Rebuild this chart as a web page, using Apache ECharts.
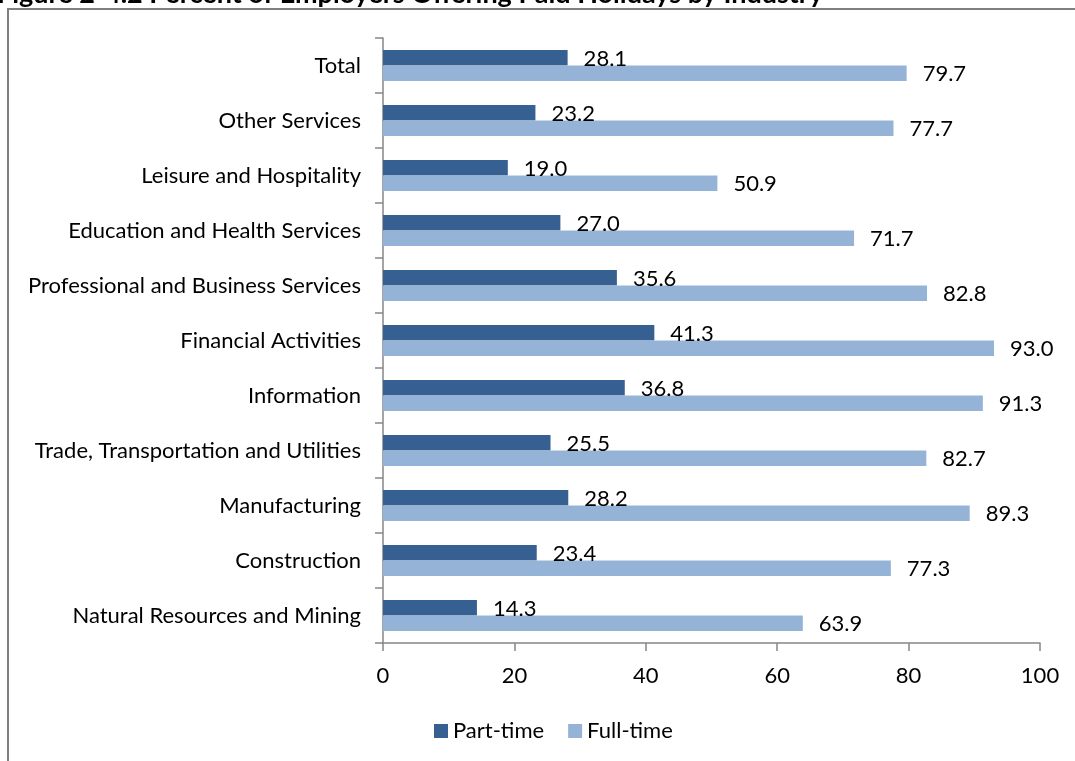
<!DOCTYPE html>
<html>
<head>
<meta charset="utf-8">
<style>
  html, body { margin: 0; padding: 0; background: #fff; }
  #main { width: 1075px; height: 761px; }
</style>
<script src="https://cdn.jsdelivr.net/npm/echarts@6/dist/echarts.min.js"></script>
</head>
<body>
<div id="main"></div>
<script>
var industries = [
  "Total",
  "Other Services",
  "Leisure and Hospitality",
  "Education and Health Services",
  "Professional and Business Services",
  "Financial Activities",
  "Information",
  "Trade, Transportation and Utilities",
  "Manufacturing",
  "Construction",
  "Natural Resources and Mining"
];
var partTime = [28.1, 23.2, 19.0, 27.0, 35.6, 41.3, 36.8, 25.5, 28.2, 23.4, 14.3];
var fullTime = [79.7, 77.7, 50.9, 71.7, 82.8, 93.0, 91.3, 82.7, 89.3, 77.3, 63.9];
var xTicks = [0, 20, 40, 60, 80, 100];

var chart = echarts.init(document.getElementById("main"));
var font = "Lato, 'Open Sans', sans-serif";
var axisGray = "#868686";
var fs = 22;

function barLabel() {
  return {
    show: true,
    position: "right",
    distance: 16,
    offset: [0, 1],
    color: "#000",
    fontFamily: font,
    fontSize: fs,
    formatter: function (p) { return p.value.toFixed(1); }
  };
}

var option = {
  animation: false,
  textStyle: { fontFamily: font },
  graphic: [
    {
      type: "rect",
      shape: { x: 8, y: 9, width: 1200, height: 900 },
      style: { fill: null, stroke: "#7f7f7f", lineWidth: 2 },
      silent: true
    },
    {
      type: "text",
      silent: true,
      style: {
        x: -3,
        y: 8,
        verticalAlign: "bottom",
        text: "Figure 2-4.2 Percent of Employers Offering Paid Holidays by Industry",
        font: "bold 27px Lato, sans-serif",
        fill: "#000"
      }
    }
  ],
  legend: {
    left: 429,
    top: 715,
    itemWidth: 14,
    itemHeight: 14,
    itemGap: 24,
    icon: "rect",
    textStyle: { fontSize: fs, color: "#000", fontFamily: font },
    data: ["Part-time", "Full-time"]
  },
  grid: { left: 383, right: 35, top: 38, bottom: 118, containLabel: false },
  xAxis: {
    type: "value",
    min: xTicks[0],
    max: xTicks[xTicks.length - 1],
    interval: 20,
    splitLine: { show: false },
    axisLine: { show: true, lineStyle: { color: axisGray, width: 1.5 } },
    axisTick: { show: true, length: 8, lineStyle: { color: axisGray, width: 1.5 } },
    axisLabel: { fontSize: fs, color: "#000", margin: 22, fontFamily: font }
  },
  yAxis: {
    type: "category",
    inverse: true,
    data: industries,
    axisLine: { show: true, lineStyle: { color: axisGray, width: 1.5 } },
    axisTick: { show: true, length: 8, lineStyle: { color: axisGray, width: 1.5 } },
    axisLabel: { fontSize: fs, color: "#000", margin: 22, fontFamily: font }
  },
  series: [
    {
      name: "Part-time",
      type: "bar",
      data: partTime,
      barGap: "0%",
      barCategoryGap: "44%",
      itemStyle: { color: "#376092" },
      label: barLabel()
    },
    {
      name: "Full-time",
      type: "bar",
      data: fullTime,
      barGap: "0%",
      barCategoryGap: "44%",
      itemStyle: { color: "#95b3d7" },
      label: barLabel()
    }
  ]
};

chart.setOption(option);
</script>
</body>
</html>
